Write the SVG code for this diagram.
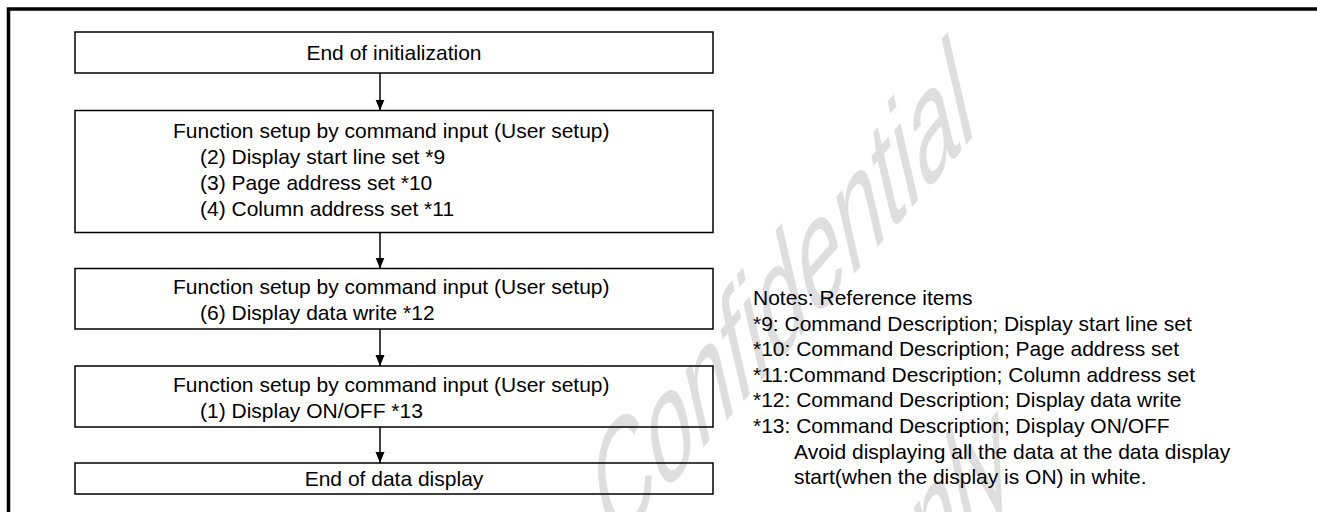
<svg xmlns="http://www.w3.org/2000/svg" width="1317" height="512" viewBox="0 0 1317 512">
<style>
.t{font-family:"Liberation Sans",Arial,sans-serif;font-size:21px;fill:#000}
.box{fill:none;stroke:#000;stroke-width:1.5}
.conn{stroke:#000;stroke-width:1.5;fill:none}
.wm{font-family:"Liberation Sans",Arial,sans-serif;font-size:100px;fill:#dedede}
</style>
<defs>
<marker id="ah" markerUnits="userSpaceOnUse" markerWidth="11" markerHeight="10" refX="11" refY="5" orient="auto">
<path d="M0,0.5 L11,5 L0,9.5 z" fill="#000"/>
</marker>
</defs>
<rect width="1317" height="512" fill="#fff"/>
<g id="watermark">
<text class="wm" transform="matrix(0.695 -0.8 0.34 1.46 610 555)">Confidential</text>
<text class="wm" transform="matrix(0.695 -0.8 0.34 1.46 610 555)" x="295" y="216">only</text>
</g>
<path d="M8.5,512 V9 H1317" fill="none" stroke="#000" stroke-width="3.5"/>
<g id="connectors">
<line class="conn" x1="380" y1="73" x2="380" y2="110.5" marker-end="url(#ah)"/>
<line class="conn" x1="380" y1="232.5" x2="380" y2="268.5" marker-end="url(#ah)"/>
<line class="conn" x1="380" y1="329" x2="380" y2="366" marker-end="url(#ah)"/>
<line class="conn" x1="380" y1="427" x2="380" y2="463" marker-end="url(#ah)"/>
</g>
<g id="n1">
<rect class="box" x="75" y="32" width="638" height="41"/>
<text class="t" x="394" y="60" text-anchor="middle">End of initialization</text>
</g>
<g id="n2">
<rect class="box" x="75" y="110.5" width="638" height="122"/>
<text class="t" x="173" y="138">Function setup by command input (User setup)</text>
<text class="t" x="200" y="164">(2) Display start line set *9</text>
<text class="t" x="200" y="190">(3) Page address set *10</text>
<text class="t" x="200" y="216">(4) Column address set *11</text>
</g>
<g id="n3">
<rect class="box" x="75" y="268.5" width="638" height="60.5"/>
<text class="t" x="173" y="294">Function setup by command input (User setup)</text>
<text class="t" x="200" y="320">(6) Display data write *12</text>
</g>
<g id="n4">
<rect class="box" x="75" y="366" width="638" height="61"/>
<text class="t" x="173" y="392">Function setup by command input (User setup)</text>
<text class="t" x="200" y="418">(1) Display ON/OFF *13</text>
</g>
<g id="n5">
<rect class="box" x="75" y="463" width="638" height="31"/>
<text class="t" x="394" y="486" text-anchor="middle">End of data display</text>
</g>
<g id="notes">
<text class="t" x="753" y="305">Notes: Reference items</text>
<text class="t" x="753" y="330.6">*9: Command Description; Display start line set</text>
<text class="t" x="753" y="356.2">*10: Command Description; Page address set</text>
<text class="t" x="753" y="381.8">*11:Command Description; Column address set</text>
<text class="t" x="753" y="407.4">*12: Command Description; Display data write</text>
<text class="t" x="753" y="433">*13: Command Description; Display ON/OFF</text>
<text class="t" x="794" y="458.6">Avoid displaying all the data at the data display</text>
<text class="t" x="794" y="484.2">start(when the display is ON) in white.</text>
</g>
</svg>
